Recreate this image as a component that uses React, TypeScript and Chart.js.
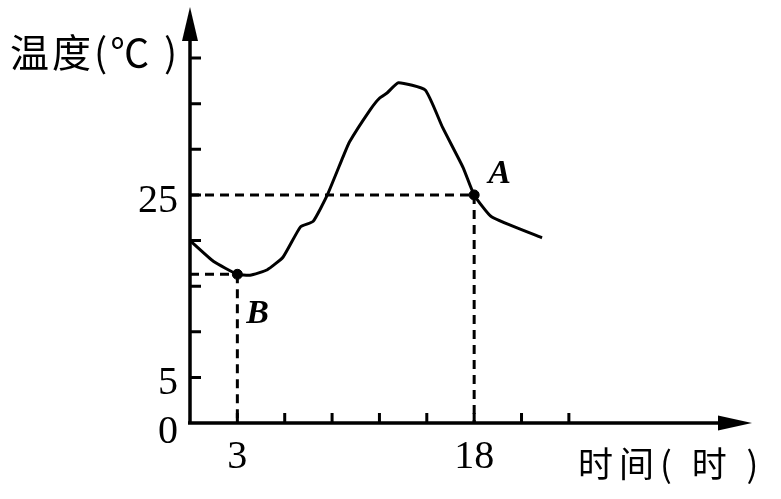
import React, { useEffect, useRef } from "react";
import { Chart, registerables } from "chart.js";

Chart.register(...registerables);

const hours = [0, 1.5, 3, 3.8, 4.9, 5.9, 7.0, 7.8, 8.7, 9.7, 10.1, 11.4, 12.0, 12.5, 13.2, 14.9, 16.0, 17.3, 18, 19.1, 22.3];
const temps = [20, 17.7, 16.3, 16.2, 16.8, 18.2, 21.5, 22.1, 25.0, 29.2, 30.8, 34.3, 35.6, 36.2, 37.3, 36.5, 32.4, 28.0, 25, 22.6, 20.3];

const pointA = { x: 18, y: 25, label: "A" };
const pointB = { x: 3, y: 16.3, label: "B" };

const yTickValues = [5, 10, 15, 20, 25, 30, 35, 40];
const yTickLabels = [0, 5, 25];
const xTickValues = [3, 6, 9, 12, 15, 18, 21, 24];
const xTickLabels = [3, 18];

const yTitle = "温度(℃ )";
const xTitle = "时间( 时 )";

const X_MAX = 35.6;
const Y_MAX = 45.6;

const drawPlugin = {
  id: "textbookAxes",
  afterDatasetsDraw(chart: any) {
    const ctx = chart.ctx as CanvasRenderingContext2D;
    const xs = chart.scales.x;
    const ys = chart.scales.y;
    const x0 = xs.getPixelForValue(0);
    const y0 = ys.getPixelForValue(0);
    const xEnd = xs.getPixelForValue(X_MAX);
    const yEnd = ys.getPixelForValue(Y_MAX);
    ctx.save();
    ctx.strokeStyle = "#000";
    ctx.fillStyle = "#000";

    // dashed guide lines
    ctx.setLineDash([9, 6]);
    ctx.lineWidth = 3;
    for (const p of [pointA, pointB]) {
      const px = xs.getPixelForValue(p.x);
      const py = ys.getPixelForValue(p.y);
      ctx.beginPath();
      ctx.moveTo(x0, py);
      ctx.lineTo(px, py);
      ctx.moveTo(px, py);
      ctx.lineTo(px, y0);
      ctx.stroke();
    }
    ctx.setLineDash([]);

    // axes
    ctx.lineWidth = 3.5;
    ctx.beginPath();
    ctx.moveTo(x0 - 2, y0);
    ctx.lineTo(xEnd - 20, y0);
    ctx.moveTo(x0, y0 + 1.5);
    ctx.lineTo(x0, yEnd + 20);
    ctx.stroke();
    // arrows
    ctx.beginPath();
    ctx.moveTo(xEnd, y0);
    ctx.lineTo(xEnd - 34, y0 - 7.5);
    ctx.lineTo(xEnd - 34, y0 + 7.5);
    ctx.closePath();
    ctx.fill();
    ctx.beginPath();
    ctx.moveTo(x0, yEnd);
    ctx.lineTo(x0 - 8, yEnd + 34);
    ctx.lineTo(x0 + 8, yEnd + 34);
    ctx.closePath();
    ctx.fill();

    // tick marks
    ctx.lineWidth = 3;
    ctx.beginPath();
    for (const v of yTickValues) {
      const py = ys.getPixelForValue(v);
      ctx.moveTo(x0, py);
      ctx.lineTo(x0 + 11, py);
    }
    for (const v of xTickValues) {
      const px = xs.getPixelForValue(v);
      ctx.moveTo(px, y0);
      ctx.lineTo(px, y0 - 10);
    }
    ctx.stroke();

    // tick labels
    ctx.font = '40px "Liberation Serif", "Times New Roman", serif';
    ctx.textBaseline = "alphabetic";
    ctx.textAlign = "right";
    for (const v of yTickLabels) {
      const py = v === 0 ? y0 + 20 : ys.getPixelForValue(v) + 17;
      ctx.fillText(String(v), x0 - 12, py);
    }
    ctx.textAlign = "center";
    for (const v of xTickLabels) {
      const px = xs.getPixelForValue(v);
      ctx.fillText(String(v), px, y0 + 45);
    }

    // point letters
    ctx.font = 'italic bold 34px "Liberation Serif", "Times New Roman", serif';
    ctx.textAlign = "left";
    ctx.fillText(pointA.label, xs.getPixelForValue(pointA.x) + 14, ys.getPixelForValue(pointA.y) - 12);
    ctx.fillText(pointB.label, xs.getPixelForValue(pointB.x) + 9, ys.getPixelForValue(pointB.y) + 49);

    // axis titles
    ctx.font = '39px "Noto Sans CJK SC", sans-serif';
    ctx.textAlign = "left";
    (ctx as any).letterSpacing = "3px";
    ctx.fillText(yTitle, 10, 67);
    ctx.font = '35px "Noto Sans CJK SC", sans-serif';
    (ctx as any).letterSpacing = "6px";
    ctx.fillText(xTitle, 578, 477);
    (ctx as any).letterSpacing = "0px";

    ctx.restore();
  },
};

export default function App() {
  const ref = useRef<HTMLCanvasElement | null>(null);
  useEffect(() => {
    if (!ref.current) return;
    const chart = new Chart(ref.current, {
      type: "scatter",
      data: {
        datasets: [
          {
            data: hours.map((h, i) => ({ x: h, y: temps[i] })),
            showLine: true,
            borderColor: "#000",
            borderWidth: 3,
            pointRadius: 0,
            tension: 0.15,
          },
          {
            data: [pointA, pointB].map((p) => ({ x: p.x, y: p.y })),
            showLine: false,
            pointRadius: 5,
            pointBackgroundColor: "#000",
            pointBorderColor: "#000",
          },
        ],
      },
      options: {
        animation: false,
        responsive: false,
        maintainAspectRatio: false,
        layout: { padding: { left: 190, right: 29, top: 7, bottom: 76 } },
        plugins: { legend: { display: false }, tooltip: { enabled: false } },
        scales: {
          x: { type: "linear", min: 0, max: X_MAX, display: false },
          y: { type: "linear", min: 0, max: Y_MAX, display: false },
        },
      },
      plugins: [drawPlugin],
    });
    return () => chart.destroy();
  }, []);
  return (
    <div style={{ position: "fixed", left: 0, top: 0, width: 781, height: 499, background: "#fff" }}>
      <canvas ref={ref} width={781} height={499} />
    </div>
  );
}
